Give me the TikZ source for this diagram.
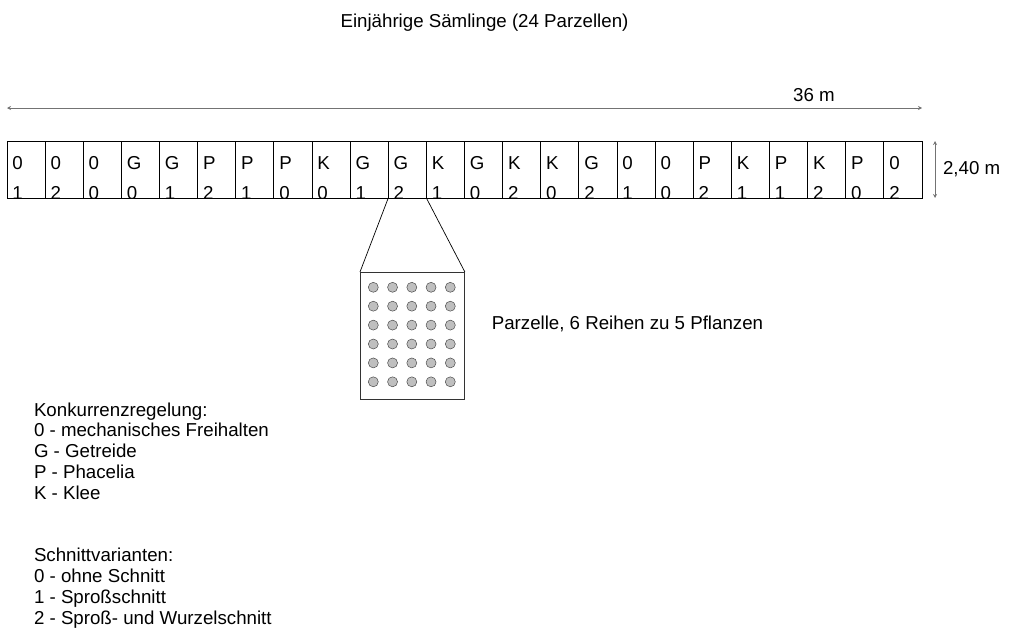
\documentclass[tikz,border=0pt]{standalone}
\usepackage{fontspec}
\setmainfont{Liberation Sans}
\usetikzlibrary{arrows.meta}
\tikzset{
  txt/.style={inner sep=0pt, outer sep=0pt, anchor=base west},
  cellbox/.style={draw=black, line width=0.9pt, minimum width=38.125pt, minimum height=57pt, inner sep=0pt, outer sep=0pt, anchor=north west},
  dimline/.style={draw=black!55, line width=0.9pt, {Stealth[length=4pt,width=4pt]}-{Stealth[length=4pt,width=4pt]}},
  plant/.style={circle, draw=black!70, fill=black!25, line width=0.5pt, minimum size=10pt, inner sep=0pt},
  plotbox/.style={draw=black!80, line width=0.9pt, minimum width=104pt, minimum height=127pt, inner sep=0pt, anchor=north west},
  zoomline/.style={draw=black, line width=0.7pt}
}
\begin{document}
\begin{tikzpicture}[x=1pt,y=-1pt, font=\fontsize{18.7}{20.8}\selectfont]
\useasboundingbox (0,0) rectangle (1014,627);

% title
\node[inner sep=0pt, anchor=base] (title) at (484.5,27) {Einjährige Sämlinge (24 Parzellen)};

% length dimension
\coordinate (aL) at (7,108);
\coordinate (aR) at (922,108);
\draw[dimline] (aL) -- (aR);
\node[inner sep=0pt, anchor=base] (len) at (814,101) {36 m};

% cells
\foreach \t/\b [count=\i from 0] in {0/1,0/2,0/0,G/0,G/1,P/2,P/1,P/0,K/0,G/1,G/2,K/1,G/0,K/2,K/0,G/2,0/1,0/0,P/2,K/1,P/1,K/2,P/0,0/2} {
  \pgfmathsetmacro{\xl}{7+\i*38.125}
  \node[txt] (t\i) at (\xl+5.4,169) {\t};
  \begin{scope}
    \clip (\xl,141) rectangle (\xl+38.125,198);
    \node[txt] (b\i) at (\xl+5.4,199.4) {\b};
  \end{scope}
  \node[cellbox] (c\i) at (\xl,141) {};
}

% width dimension
\coordinate (vT) at (935,141);
\coordinate (vB) at (935,198);
\draw[dimline] (vT) -- (vB);
\node[txt] (wid) at (943,174) {2,40 m};

% plot detail
\node[plotbox] (plot) at (360,272) {};
\draw[zoomline] (plot.north west) -- (c10.south west);
\draw[zoomline] (plot.north east) -- (c10.south east);
\foreach \r in {0,...,5} {
  \foreach \c in {0,...,4} {
    \node[plant] (p\r\c) at (373.3+\c*19.25, 287.3+\r*18.9) {};
  }
}
\node[txt] (plotlabel) at (491.8,329) {Parzelle, 6 Reihen zu 5 Pflanzen};

% legend
\foreach \s [count=\i from 0] in {Konkurrenzregelung:, 0 - mechanisches Freihalten, G - Getreide, P - Phacelia, K - Klee} {
  \node[txt] (la\i) at (34,416+\i*20.8) {\s};
}
\foreach \s [count=\i from 0] in {Schnittvarianten:, 0 - ohne Schnitt, 1 - Sproßschnitt, 2 - Sproß- und Wurzelschnitt} {
  \node[txt] (lb\i) at (34,561.6+\i*20.8) {\s};
}
\end{tikzpicture}
\end{document}
